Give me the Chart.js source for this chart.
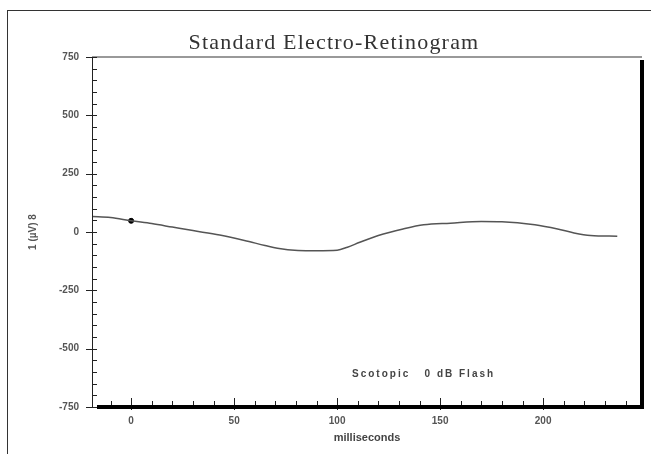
<!DOCTYPE html>
<html>
<head>
<meta charset="utf-8">
<script src="https://cdn.jsdelivr.net/npm/chart.js@4"></script>
<style>
  body { margin: 0; background: #fff; }
  #wrap { position: relative; width: 651px; height: 454px; }
  #frame { position: absolute; left: 7px; top: 10px; width: 650px; height: 450px;
           border-top: 1px solid #333; border-left: 1px solid #333; pointer-events: none; }
</style>
</head>
<body>
<div id="wrap">
  <canvas id="chart" width="651" height="454"></canvas>
  <div id="frame"></div>
</div>
<script>
// waveform (ms, µV)
const times = [-19, -10, 0, 10, 20, 30, 43, 55, 65, 71, 81, 90, 100, 105, 111, 120, 132, 142, 155, 170, 180, 196, 207, 215, 223, 236];
const amps  = [66, 62, 48, 36, 21, 6, -13, -36, -58, -70, -79, -80, -78, -65, -44, -15, 13, 31, 38, 45, 44, 31, 13, -4, -15, -18];

// stimulus marker
const markerTime = [0];
const markerAmp = [48];

const yTicks = [-750, -500, -250, 0, 250, 500, 750];
const xTicks = [0, 50, 100, 150, 200];

// ✏️ frame, inward ticks, title and note
const decor = {
  id: "decor",
  afterDraw(chart) {
    const ctx = chart.ctx;
    const a = chart.chartArea;
    const x = chart.scales.x;
    const y = chart.scales.y;
    ctx.save();

    // top edge (grey)
    ctx.strokeStyle = "#999";
    ctx.lineWidth = 2;
    ctx.beginPath();
    ctx.moveTo(a.left, a.top);
    ctx.lineTo(a.right, a.top);
    ctx.stroke();

    // left axis
    ctx.strokeStyle = "#222";
    ctx.lineWidth = 1;
    ctx.beginPath();
    ctx.moveTo(a.left + 0.5, a.top);
    ctx.lineTo(a.left + 0.5, a.bottom);
    ctx.stroke();

    // y ticks every 50
    for (let v = -750; v <= 750; v += 50) {
      const py = Math.round(y.getPixelForValue(v)) + 0.5;
      const major = v % 250 === 0;
      ctx.beginPath();
      ctx.moveTo(a.left - (major ? 6 : 0), py);
      ctx.lineTo(a.left + 5, py);
      ctx.stroke();
    }

    // x ticks every 10
    for (let t = -10; t <= 240; t += 10) {
      const px = Math.round(x.getPixelForValue(t)) + 0.5;
      const major = t % 50 === 0;
      ctx.beginPath();
      ctx.moveTo(px, a.bottom + (major ? 3 : 0));
      ctx.lineTo(px, a.bottom - (major ? 9 : 6));
      ctx.stroke();
    }

    // bottom + right edges (heavy)
    ctx.strokeStyle = "#000";
    ctx.lineWidth = 4;
    ctx.beginPath();
    ctx.moveTo(a.left + 5, a.bottom);
    ctx.lineTo(a.right, a.bottom);
    ctx.lineTo(a.right, a.top + 3);
    ctx.stroke();

    // title
    ctx.fillStyle = "#333";
    ctx.font = "22px 'Liberation Serif', serif";
    ctx.letterSpacing = "1.2px";
    ctx.textAlign = "center";
    ctx.textBaseline = "middle";
    ctx.fillText("Standard Electro-Retinogram", 334, 43);

    // note
    ctx.fillStyle = "#444";
    ctx.font = "bold 10px 'Liberation Sans', Arial, sans-serif";
    ctx.letterSpacing = "2px";
    ctx.textAlign = "left";
    ctx.fillText("Scotopic   0 dB Flash", 352, 374);

    ctx.restore();
  }
};

const ctx = document.getElementById("chart").getContext("2d");
const labelFont = { weight: "bold", family: "'Liberation Sans', Arial" };

new Chart(ctx, {
  type: "line",
  data: {
    datasets: [
      {
        data: times.map((t, i) => ({ x: t, y: amps[i] })),
        borderColor: "#555",
        borderWidth: 1.5,
        pointRadius: 0,
        tension: 0.35,
        cubicInterpolationMode: "monotone"
      },
      {
        data: markerTime.map((t, i) => ({ x: t, y: markerAmp[i] })),
        showLine: false,
        pointRadius: 2.5,
        pointBackgroundColor: "#000",
        pointBorderColor: "#000"
      }
    ]
  },
  options: {
    responsive: false,
    animation: false,
    layout: { padding: { left: 0, top: 57, right: 9, bottom: 0 } },
    plugins: { legend: { display: false }, tooltip: { enabled: false } },
    scales: {
      x: {
        type: "linear",
        min: -19,
        max: 248,
        afterFit: s => { s.height = 47; },
        afterBuildTicks: s => { s.ticks = xTicks.map(v => ({ value: v })); },
        grid: { display: false, drawTicks: false },
        border: { display: false },
        ticks: { padding: 8, color: "#555", font: { ...labelFont, size: 10 } },
        title: {
          display: true,
          text: "milliseconds",
          color: "#444",
          font: { ...labelFont, size: 11 },
          padding: { top: 0, bottom: 9 }
        }
      },
      y: {
        min: -750,
        max: 750,
        afterFit: s => { s.width = 92; },
        afterBuildTicks: s => { s.ticks = yTicks.map(v => ({ value: v })); },
        grid: { display: false, drawTicks: false },
        border: { display: false },
        ticks: { padding: 13, color: "#555", font: { ...labelFont, size: 10 } },
        title: {
          display: true,
          text: "1 (µV) 8",
          color: "#555",
          font: { ...labelFont, size: 10 },
          padding: { top: 27, bottom: 0 }
        }
      }
    }
  },
  plugins: [decor]
});
</script>
</body>
</html>
